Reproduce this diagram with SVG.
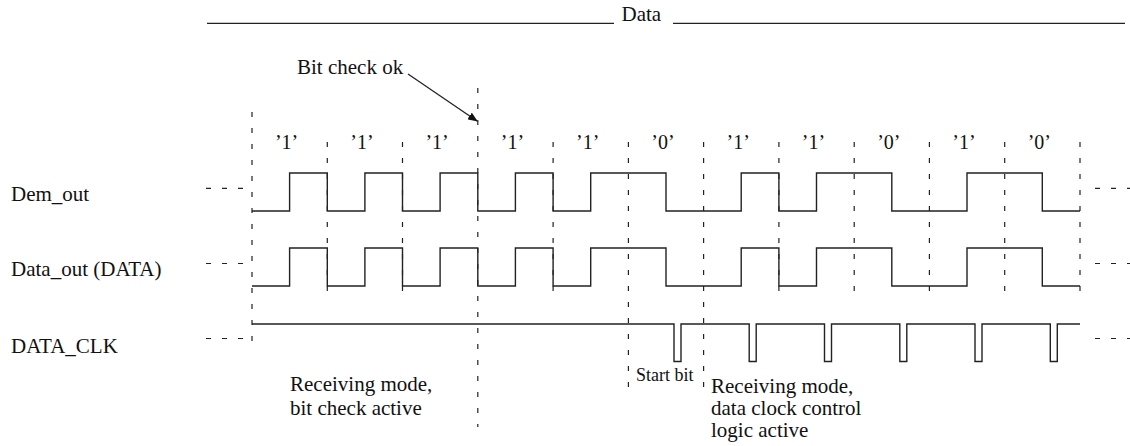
<svg xmlns="http://www.w3.org/2000/svg" width="1130" height="446" viewBox="0 0 1130 446" font-family="'Liberation Serif', 'DejaVu Serif', serif">
<style>
text{font-family:'Liberation Serif','DejaVu Serif',serif;fill:#111;}
.lbl{font-size:21px;}
.bit{font-size:20px;text-anchor:middle;}
.small{font-size:18px;}
.wave{fill:none;stroke:#222;stroke-width:1.4;}
.solid{stroke:#222;stroke-width:1.3;fill:none;}
.vd{stroke:#222;stroke-width:1.2;stroke-dasharray:5 11;fill:none;}
.hd{stroke:#222;stroke-width:1.2;stroke-dasharray:5 11;fill:none;}
</style>
<defs>
<marker id="arr" markerWidth="10" markerHeight="8" refX="9" refY="4" orient="auto" markerUnits="userSpaceOnUse">
<path d="M0,0 L10,4 L0,8 z" fill="#111"/>
</marker>
</defs>
<rect width="1130" height="446" fill="#fff"/>

<g id="data-header">
<line class="solid" x1="207" y1="23.3" x2="614" y2="23.3"/>
<text class="lbl" x="621.5" y="21" font-family="'Liberation Serif', serif">Data</text>
<line class="solid" x1="673" y1="23.3" x2="1125" y2="23.3"/>
</g>

<g id="bit-check-ok">
<text class="lbl" x="297" y="74">Bit check ok</text>
</g>

<g id="row-labels">
<text class="lbl" x="11" y="201">Dem_out</text>
<text class="lbl" x="11" y="275.5">Data_out (DATA)</text>
<text class="lbl" x="11" y="353">DATA_CLK</text>
</g>

<g id="bit-labels">
<text class="bit" x="286.6" y="149">’1’</text>
<text class="bit" x="361.9" y="149">’1’</text>
<text class="bit" x="437.1" y="149">’1’</text>
<text class="bit" x="512.4" y="149">’1’</text>
<text class="bit" x="587.7" y="149">’1’</text>
<text class="bit" x="663" y="149">’0’</text>
<text class="bit" x="738.2" y="149">’1’</text>
<text class="bit" x="813.5" y="149">’1’</text>
<text class="bit" x="888.8" y="149">’0’</text>
<text class="bit" x="964" y="149">’1’</text>
<text class="bit" x="1039.3" y="149">’0’</text>
</g>

<g id="bit-boundaries">
<line class="vd" x1="252" y1="112" x2="252" y2="350"/>
<line class="vd" x1="327.3" y1="142" x2="327.3" y2="291"/>
<line class="vd" x1="402.5" y1="142" x2="402.5" y2="291"/>
<line class="vd" x1="477.8" y1="88" x2="477.8" y2="427"/>
<line class="vd" x1="553.1" y1="142" x2="553.1" y2="291"/>
<line class="vd" x1="628.4" y1="142" x2="628.4" y2="390"/>
<line class="vd" x1="703.6" y1="142" x2="703.6" y2="390"/>
<line class="vd" x1="778.9" y1="142" x2="778.9" y2="291"/>
<line class="vd" x1="854.2" y1="142" x2="854.2" y2="291"/>
<line class="vd" x1="929.4" y1="142" x2="929.4" y2="291"/>
<line class="vd" x1="1004.7" y1="142" x2="1004.7" y2="291"/>
<line class="vd" x1="1080" y1="142" x2="1080" y2="291"/>
</g>

<g id="dem-out">
<line class="hd" x1="206" y1="188.3" x2="243" y2="188.3"/>
<path class="wave" d="M252,211 H289.6 V173 H327.3 V211 H364.9 V173 H402.5 V211 H440.1 V173 H477.8 V211 H515.4 V173 H553.1 V211 H590.7 V173 H666 V211 H741.2 V173 H778.9 V211 H816.5 V173 H891.8 V211 H967 V173 H1042.3 V211 H1080"/>
<line class="hd" x1="1095" y1="188.3" x2="1131" y2="188.3"/>
</g>

<g id="data-out">
<line class="hd" x1="206" y1="263.5" x2="243" y2="263.5"/>
<path class="wave" d="M252,286 H289.6 V248 H327.3 V286 H364.9 V248 H402.5 V286 H440.1 V248 H477.8 V286 H515.4 V248 H553.1 V286 H590.7 V248 H666 V286 H741.2 V248 H778.9 V286 H816.5 V248 H891.8 V286 H967 V248 H1042.3 V286 H1080"/>
<line class="hd" x1="1095" y1="263.5" x2="1131" y2="263.5"/>
</g>

<g id="data-clk">
<line class="hd" x1="206" y1="338.5" x2="243" y2="338.5"/>
<path class="wave" d="M252,324 H674 V361.5 H681 V324 H749.2 V361.5 H756.2 V324 H824.5 V361.5 H831.5 V324 H899.8 V361.5 H906.8 V324 H975 V361.5 H982 V324 H1050.3 V361.5 H1057.3 V324 H1080"/>
<line class="hd" x1="1095" y1="338.5" x2="1131" y2="338.5"/>
</g>

<g id="connectors">
<line class="solid" x1="408" y1="74" x2="477" y2="121" marker-end="url(#arr)"/>
</g>

<g id="mode-bit-check">
<text class="lbl" x="290" y="391">Receiving mode,</text>
<text class="lbl" x="290" y="414.5">bit check active</text>
</g>

<g id="start-bit">
<text class="small" x="636" y="381">Start bit</text>
</g>

<g id="mode-data-clock">
<text class="lbl" x="711" y="393">Receiving mode,</text>
<text class="lbl" x="711" y="415">data clock control</text>
<text class="lbl" x="711" y="437">logic active</text>
</g>
</svg>
